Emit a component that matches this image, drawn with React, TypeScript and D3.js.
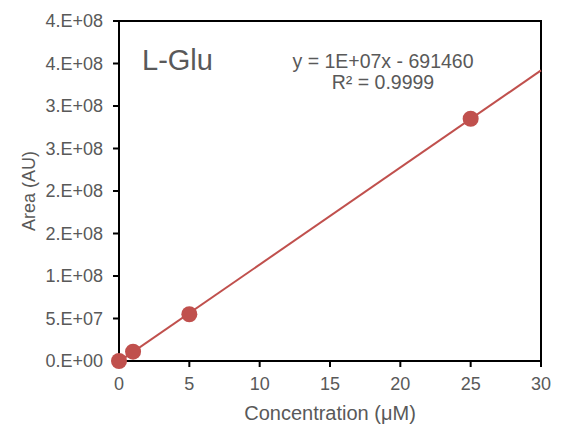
import React from 'react';
import * as d3 from 'd3';

// calibration points (µM -> peak area)
const concentrations = [0, 1, 5, 25];
const areas = [0, 1.1e7, 5.5e7, 2.85e8];

const xTicks = [0, 5, 10, 15, 20, 25, 30];
const yTicks = [0, 5e7, 1e8, 1.5e8, 2e8, 2.5e8, 3e8, 3.5e8, 4e8];

const chartTitle = 'L-Glu';
const equationText = 'y = 1E+07x - 691460';
const r2Text = 'R² = 0.9999';
const xTitle = 'Concentration (\u03BCM)';
const yTitle = 'Area (AU)';

const W = 564;
const H = 426;
const margin = { top: 21, right: 23, bottom: 65, left: 119 };
const FONT = '"Liberation Sans", Arial, sans-serif';
const TEXT = '#595959';
const RED = '#c0504d';

// excel style "0.E+00"
const sci = (v: number) => {
  const [m, e] = v.toExponential(0).split('e');
  const n = Math.abs(parseInt(e, 10));
  return `${m}.E${e[0] === '-' ? '-' : '+'}${String(n).padStart(2, '0')}`;
};

export default function App() {
  const x = d3.scaleLinear().domain([0, 30]).range([margin.left, W - margin.right]);
  const y = d3.scaleLinear().domain([0, 4e8]).range([H - margin.bottom, margin.top]);

  // linear trendline from the data
  const mx = d3.mean(concentrations)!;
  const my = d3.mean(areas)!;
  const sxy = d3.sum(concentrations, (c, i) => (c - mx) * (areas[i] - my));
  const sxx = d3.sum(concentrations, c => (c - mx) ** 2);
  const slope = sxy / sxx;
  const icpt = my - slope * mx;
  const fit = d3.line<number>().x(c => x(c)).y(c => y(slope * c + icpt));

  const x0 = margin.left;
  const x1 = W - margin.right;
  const y0 = H - margin.bottom;
  const y1 = margin.top;

  return (
    <svg width={W} height={H} style={{ position: 'absolute', left: 0, top: 0, background: '#fff' }}
      fontFamily={FONT}>
      <rect x={x0} y={y1} width={x1 - x0} height={y0 - y1} fill="none" stroke="#000" strokeWidth={2} />

      {yTicks.map(t => (
        <g key={'y' + t}>
          <line x1={x0 - 6} x2={x0} y1={y(t)} y2={y(t)} stroke="#000" strokeWidth={2} />
          <text x={x0 - 16} y={y(t)} dy="0.35em" textAnchor="end" fontSize={18} fill={TEXT}>{sci(t)}</text>
        </g>
      ))}
      {xTicks.map(t => (
        <g key={'x' + t}>
          <line x1={x(t)} x2={x(t)} y1={y0} y2={y0 + 6} stroke="#000" strokeWidth={2} />
          <text x={x(t)} y={y0 + 29} textAnchor="middle" fontSize={18} fill={TEXT}>{t}</text>
        </g>
      ))}

      <path d={fit([0, 30]) || ''} fill="none" stroke={RED} strokeWidth={2} />
      {concentrations.map((c, i) => (
        <circle key={c} cx={x(c)} cy={y(areas[i])} r={8} fill={RED} />
      ))}

      <text x={142} y={70} fontSize={29} fill={TEXT}>{chartTitle}</text>
      <text x={383} y={68} textAnchor="middle" fontSize={19.5} fill={TEXT}>{equationText}</text>
      <text x={383} y={89} textAnchor="middle" fontSize={19.5} fill={TEXT}>{r2Text}</text>

      <text x={(x0 + x1) / 2} y={420} textAnchor="middle" fontSize={20} fill={TEXT}>{xTitle}</text>
      <text transform={`translate(35,${(y0 + y1) / 2}) rotate(-90)`} textAnchor="middle" fontSize={18} fill={TEXT}>{yTitle}</text>
    </svg>
  );
}
